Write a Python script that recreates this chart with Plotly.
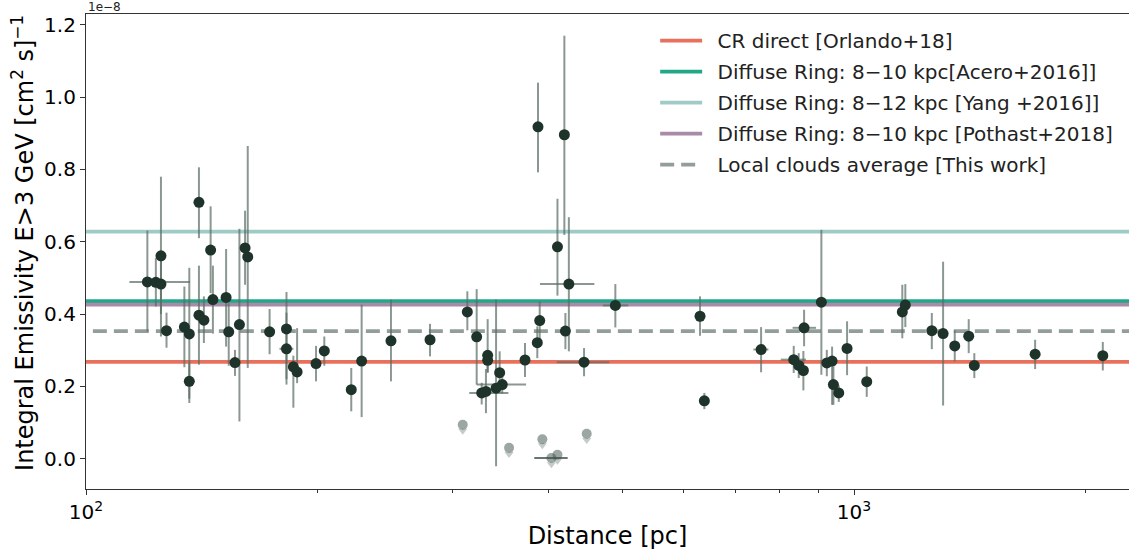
import plotly.graph_objects as go
import numpy as np

# ---- detected clouds (emissivity in units of 1e-8) ----
distance = [120.2, 123.3, 125.2, 125.2, 127.3, 134.3, 136.3, 136.3, 140.3, 140.3,
            142.4, 145.3, 146.3, 152.2, 153.4, 156.3, 158.4, 161.1, 162.4, 173.4,
            182.4, 182.4, 186.2, 188.3, 199.3, 204.3, 221.5, 228.5,
            249.5, 280.5, 313.7, 322.6, 333.4, 333.4, 345.6, 348.3, 341.9, 327.5,
            331.7, 372.9, 386.9, 389.7, 387.7, 419.6, 411.0, 425.3, 420.9, 445.1, 488.9,
            630.2, 638.4, 756.8, 834.6, 847.2, 859.1, 860.9, 906.7, 921.6, 936.3,
            940.0, 955.2, 979.3, 1038.8, 1155.7, 1166.2, 1262.6, 1306.0, 1352.4,
            1410.3, 1434.2, 1721.0, 2108.0]
dist_low = [113.9, 123.3, 125.2, 125.2, 127.3, 134.3, 136.3, 136.3, 140.3, 140.3,
            142.4, 145.3, 146.3, 152.2, 153.4, 156.3, 158.4, 161.1, 162.4, 173.4,
            182.4, 178.6, 186.2, 188.3, 199.3, 204.3, 221.5, 228.5,
            249.5, 280.5, 313.7, 322.6, 333.4, 333.4, 345.6, 322.6, 341.9, 315.5,
            331.7, 372.9, 386.9, 389.7, 387.7, 419.6, 411.0, 390.0, 420.9, 410.2, 470.9,
            630.2, 632.0, 739.6, 802.7, 847.2, 859.1, 831.8, 906.7, 921.6, 936.3,
            940.0, 955.2, 979.3, 1038.8, 1155.7, 1166.2, 1262.6, 1306.0, 1340.0,
            1410.3, 1434.2, 1721.0, 2108.0]
dist_high = [136.6, 123.3, 125.2, 125.2, 127.3, 134.3, 136.3, 136.3, 140.3, 140.3,
             142.4, 145.3, 146.3, 152.2, 153.4, 156.3, 158.4, 161.1, 162.4, 173.4,
             182.4, 186.2, 186.2, 188.3, 199.3, 204.3, 221.5, 228.5,
             249.5, 280.5, 313.7, 322.6, 333.4, 333.4, 345.6, 374.1, 341.9, 354.8,
             331.7, 372.9, 386.9, 389.7, 387.7, 419.6, 411.0, 459.1, 420.9, 480.1, 508.2,
             630.2, 645.0, 773.5, 865.9, 847.2, 859.1, 892.4, 906.7, 921.6, 936.3,
             940.0, 955.2, 979.3, 1038.8, 1155.7, 1166.2, 1262.6, 1306.0, 1362.0,
             1410.3, 1434.2, 1721.0, 2108.0]
emissivity = [0.489, 0.488, 0.561, 0.483, 0.354, 0.364, 0.345, 0.214, 0.709, 0.397,
              0.383, 0.577, 0.440, 0.446, 0.351, 0.266, 0.371, 0.583, 0.558, 0.351,
              0.359, 0.304, 0.254, 0.240, 0.263, 0.298, 0.191, 0.270,
              0.326, 0.329, 0.406, 0.337, 0.286, 0.272, 0.238, 0.205, 0.195, 0.182,
              0.186, 0.273, 0.321, 0.382, 0.918, 0.896, 0.586, 0.483, 0.353, 0.267, 0.424,
              0.394, 0.160, 0.302, 0.274, 0.258, 0.244, 0.362, 0.433, 0.265, 0.270,
              0.205, 0.182, 0.305, 0.213, 0.406, 0.425, 0.354, 0.346, 0.312,
              0.339, 0.258, 0.289, 0.285]
emis_low = [0.352, 0.421, 0.338, 0.400, 0.307, 0.253, 0.166, 0.154, 0.610, 0.260,
            0.320, 0.458, 0.346, 0.310, 0.257, 0.229, 0.103, 0.481, 0.251, 0.289,
            0.205, 0.220, 0.141, 0.209, 0.214, 0.257, 0.131, 0.115,
            0.214, 0.283, 0.355, 0.205, 0.237, 0.240, 0.182, 0.180, -0.021, 0.150,
            0.126, 0.226, 0.278, 0.320, 0.792, 0.619, 0.451, 0.297, 0.303, 0.228, 0.363,
            0.340, 0.137, 0.239, 0.237, 0.223, 0.189, 0.311, 0.232, 0.228, 0.149,
            0.149, 0.157, 0.231, 0.171, 0.333, 0.364, 0.303, 0.147, 0.269,
            0.292, 0.223, 0.248, 0.244]
emis_high = [0.631, 0.555, 0.780, 0.560, 0.404, 0.476, 0.528, 0.265, 0.806, 0.534,
             0.449, 0.698, 0.534, 0.580, 0.430, 0.301, 0.636, 0.686, 0.865, 0.414,
             0.461, 0.404, 0.285, 0.361, 0.312, 0.338, 0.251, 0.426,
             0.440, 0.373, 0.463, 0.469, 0.386, 0.300, 0.297, 0.230, 0.440, 0.210,
             0.248, 0.320, 0.366, 0.435, 1.040, 1.170, 0.719, 0.668, 0.403, 0.306, 0.483,
             0.449, 0.182, 0.364, 0.312, 0.292, 0.298, 0.412, 0.633, 0.301, 0.310,
             0.255, 0.203, 0.380, 0.255, 0.481, 0.483, 0.403, 0.545, 0.355,
             0.386, 0.292, 0.329, 0.323]

# ---- upper limits ----
ul_distance = [309.4, 355.5, 392.8, 403.6, 411.0, 448.7]
ul_dist_low = [309.4, 355.5, 392.8, 383.4, 411.0, 448.7]
ul_dist_high = [309.4, 355.5, 392.8, 423.8, 411.0, 448.7]
ul_emissivity = [0.094, 0.030, 0.054, 0.002, 0.011, 0.069]

# ---- reference levels ----
ref_names = ["CR direct [Orlando+18]",
             "Diffuse Ring: 8\u221210 kpc[Acero+2016]]",
             "Diffuse Ring: 8\u221212 kpc [Yang +2016]]",
             "Diffuse Ring: 8\u221210 kpc [Pothast+2018]",
             "Local clouds average [This work]"]
ref_values = [0.268, 0.436, 0.628, 0.426, 0.353]

ref_colors = ["#e8705c", "#23a789", "#9ecbc5", "#a98aa8", "#939e99"]
ref_dash = ["solid", "solid", "solid", "solid", "14px,7px"]

x_tick_vals = [100, 1000]
x_tick_text = ["10<sup>2</sup>", "10<sup>3</sup>"]
x_minor_vals = [200, 300, 400, 500, 600, 700, 800, 900, 2000]
y_tick_vals = [0.0, 0.2, 0.4, 0.6, 0.8, 1.0, 1.2]

FONT = "DejaVu Sans, sans-serif"

fig = go.Figure()

x_line = [90, 2600]
for i, (name, val, col, dsh) in enumerate(zip(ref_names, ref_values, ref_colors, ref_dash)):
    fig.add_trace(go.Scatter(
        x=x_line, y=[val, val], mode="lines", name="\u00a0\u2009" + name,
        legendgroup=f"g{i}",
        line=dict(color=col, width=3.8, dash=dsh),
        hoverinfo="skip"))

em = np.array(emissivity)
d = np.array(distance)

# upper limits
ul_e = np.array(ul_emissivity)
ul_d = np.array(ul_distance)
fig.add_trace(go.Scatter(
    x=ul_d, y=ul_e - 0.017, mode="markers", showlegend=False,
    marker=dict(symbol="triangle-down", size=8, color="rgba(150,160,155,0.55)", line=dict(width=0))))
fig.add_trace(go.Scatter(
    x=ul_d, y=ul_e, mode="markers", showlegend=False,
    error_x=dict(type="data", symmetric=False,
                 array=np.array(ul_dist_high) - ul_d,
                 arrayminus=ul_d - np.array(ul_dist_low),
                 color="rgba(40,60,50,0.7)", thickness=2, width=0),
    marker=dict(symbol="circle", size=10, color="rgba(60,80,70,0.5)", line=dict(width=0))))

# detections
fig.add_trace(go.Scatter(
    x=d, y=em, mode="markers", showlegend=False,
    error_x=dict(type="data", symmetric=False,
                 array=np.array(dist_high) - d,
                 arrayminus=d - np.array(dist_low),
                 color="rgba(90,108,100,0.7)", thickness=2, width=0),
    error_y=dict(type="data", symmetric=False,
                 array=np.array(emis_high) - em,
                 arrayminus=em - np.array(emis_low),
                 color="rgba(90,108,100,0.7)", thickness=2, width=0),
    marker=dict(symbol="circle", size=11, color="#1e3329", line=dict(width=0))))

fig.update_layout(
    width=1129, height=558,
    margin=dict(l=86, r=0, t=14, b=69),
    paper_bgcolor="white", plot_bgcolor="white",
    font=dict(family=FONT, color="black", size=20),
    showlegend=True,
    legend=dict(x=0.5457, y=0.985, xanchor="left", yanchor="top",
                bgcolor="rgba(255,255,255,0)", borderwidth=0,
                font=dict(family=FONT, size=20, color="#222"),
                tracegroupgap=2, itemwidth=42),
    xaxis=dict(type="log", range=[2, 3.358], automargin=False,
               tickmode="array", tickvals=x_tick_vals, ticktext=x_tick_text,
               ticks="outside", ticklen=5, tickwidth=1, tickcolor="#333",
               minor=dict(tickmode="array", tickvals=x_minor_vals, ticks="outside",
                          ticklen=3, tickwidth=1, tickcolor="#333", showgrid=False),
               showgrid=False, zeroline=False,
               showline=True, linecolor="#333", linewidth=1.2, mirror=True,
               tickfont=dict(family=FONT, size=20),
               title=dict(text="Distance [pc]", font=dict(family=FONT, size=24), standoff=4)),
    yaxis=dict(range=[-0.0838, 1.230], automargin=False,
               tickmode="array", tickvals=y_tick_vals,
               ticktext=[f"{v:.1f}" for v in y_tick_vals],
               ticks="outside", ticklen=5, tickwidth=1, tickcolor="#333",
               showgrid=False, zeroline=False,
               showline=True, linecolor="#333", linewidth=1.2,
               tickfont=dict(family=FONT, size=20)),
    annotations=[
        dict(text="1e\u22128", x=0, y=1, xref="paper", yref="paper",
             xanchor="left", yanchor="bottom", showarrow=False,
             font=dict(family=FONT, size=12, color="#222"), yshift=-2),
        dict(text="Integral Emissivity E>3 GeV [cm<sup>2</sup> s]<sup>\u22121</sup>",
             x=0, y=0.518, xref="paper", yref="paper", xshift=-63,
             xanchor="center", yanchor="middle", textangle=-90, showarrow=False,
             font=dict(family=FONT, size=24, color="black")),
    ]
)

# remove the browser's default 8px body margin so the figure fills the window
fig.write_html("out.html", config={"displayModeBar": False},
               post_script="document.body.style.margin='0';")
